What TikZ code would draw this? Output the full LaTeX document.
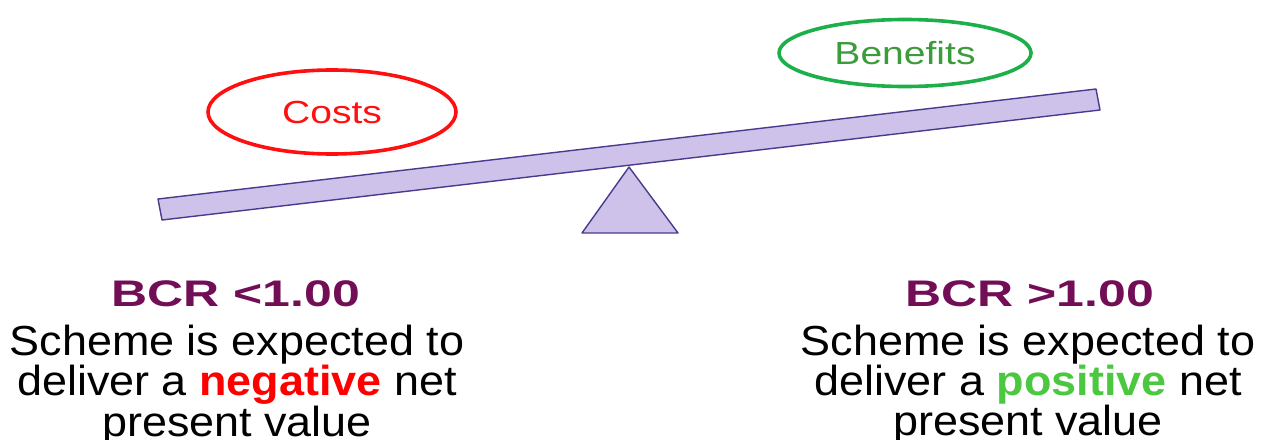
\documentclass[tikz,border=0pt]{standalone}
\usepackage{fontspec}
\setmainfont{Liberation Sans}
\newfontfamily\labelfont[FakeStretch=1.22]{Liberation Sans}
\newfontfamily\headfont[FakeStretch=1.35]{Liberation Sans}
\newfontfamily\bodyfont[FakeStretch=1.07]{Liberation Sans}
\usetikzlibrary{shapes.geometric}
\definecolor{costred}{HTML}{FF1010}
\definecolor{beneline}{HTML}{1DB04A}
\definecolor{benetext}{HTML}{3C9C3C}
\definecolor{bcrpurple}{HTML}{720E56}
\definecolor{beamfill}{HTML}{CFC2EA}
\definecolor{beamline}{HTML}{4A3A8E}
\definecolor{negred}{HTML}{FF0000}
\definecolor{posgreen}{HTML}{4CC840}
\tikzset{
  bubble/.style={ellipse, line width=3.6pt, inner sep=0pt, font=\labelfont\fontsize{32}{36}\selectfont},
  heading/.style={anchor=base, inner sep=0pt, text=bcrpurple, font=\headfont\bfseries\fontsize{37}{42}\selectfont},
  body/.style={anchor=north, inner sep=0pt, align=center, font=\bodyfont\fontsize{42}{37}\selectfont},
  beam/.style={draw=beamline, fill=beamfill, line width=1.4pt, line join=round}
}
\begin{document}
\begin{tikzpicture}[x=1pt,y=-1pt]
\useasboundingbox (0,0) rectangle (1271,439);
% seesaw
\coordinate (bl) at (162,220);
\coordinate (tl) at (158,199);
\coordinate (tr) at (1096,89);
\coordinate (br) at (1100,110);
\draw[beam] (bl) -- (tl) -- (tr) -- (br) -- cycle;
\coordinate (apex) at (629,167);
\coordinate (fl) at (582,233);
\coordinate (fr) at (678,233);
\draw[beam] (apex) -- (fl) -- (fr) -- cycle;
% bubbles
\node[bubble, draw=costred, text=costred, minimum width=248pt, minimum height=84pt] (costs) at (332,112) {Costs};
\node[bubble, draw=beneline, text=benetext, minimum width=252pt, minimum height=67pt] (benefits) at (905,53) {Benefits};
% left text
\node[heading] (bcrlow) at (236,306) {BCR <1.00};
\node[body] (neg) at (237,325) {Scheme is expected to\\deliver a \textbf{\textcolor{negred}{negative}} net\\present value};
% right text
\node[heading] (bcrhigh) at (1030,306) {BCR >1.00};
\node[body] (pos) at (1028,325) {Scheme is expected to\\deliver a \textbf{\textcolor{posgreen}{positive}} net\\present value};
\end{tikzpicture}
\end{document}
